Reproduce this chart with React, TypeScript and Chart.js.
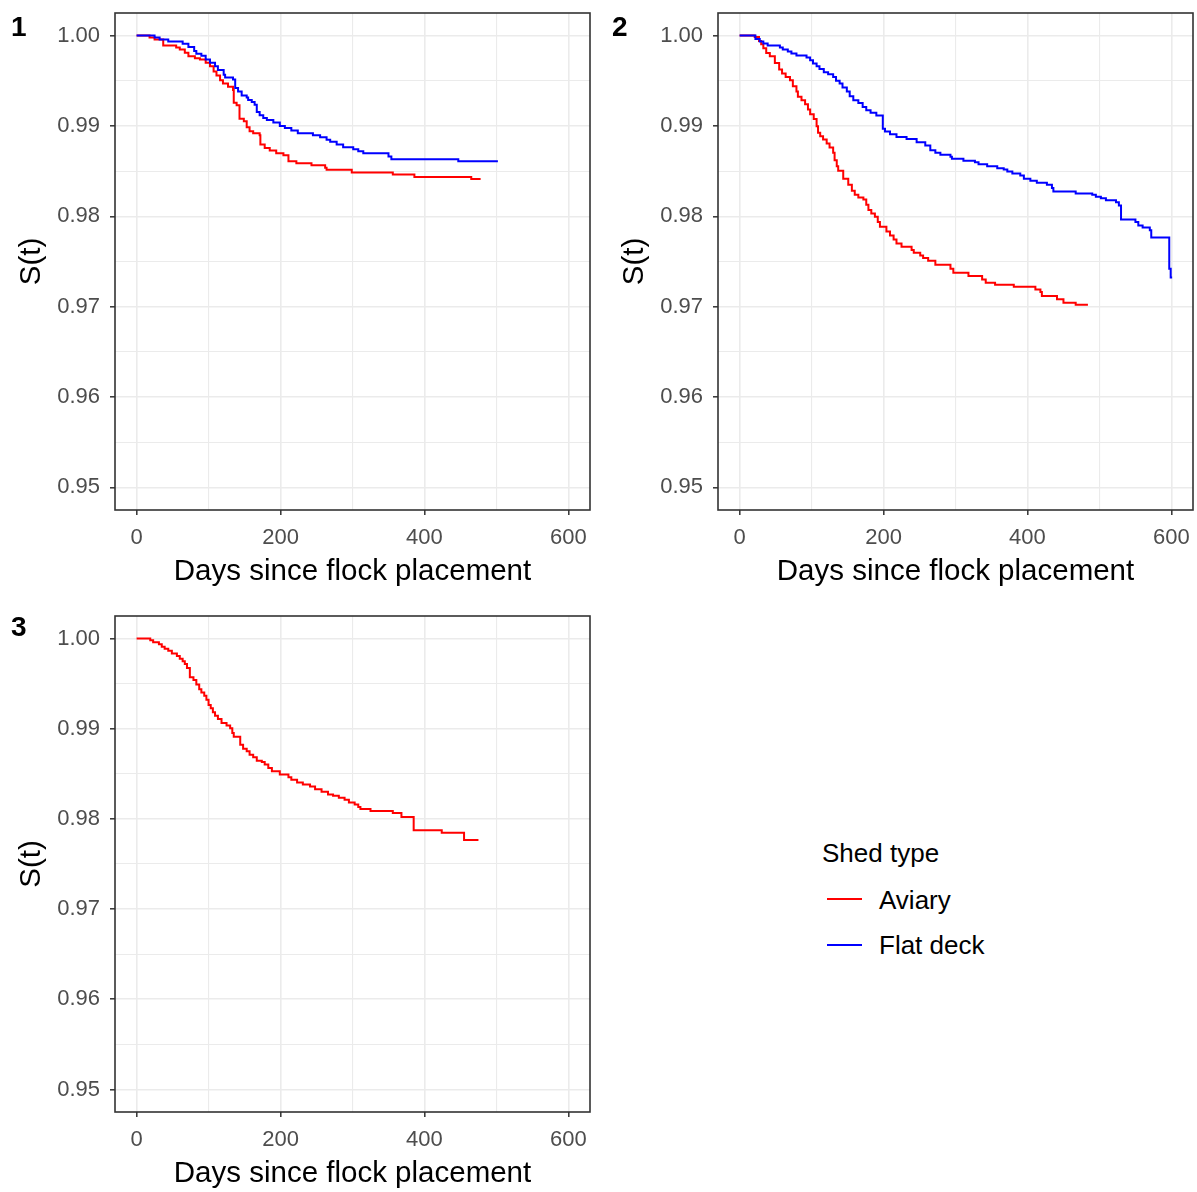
import React, { useEffect, useRef } from "react";
import { Chart, registerables } from "chart.js";

Chart.register(...registerables);

const FONT = "'Liberation Sans', Arial, Helvetica, sans-serif";

// Axis ticks and grid
const DAY_GRID = [0, 100, 200, 300, 400, 500, 600];
const DAY_LABELS = [0, 200, 400, 600];
const SURV_GRID = [0.95, 0.955, 0.96, 0.965, 0.97, 0.975, 0.98, 0.985, 0.99, 0.995, 1.0];
const SURV_TICKS = [0.95, 0.96, 0.97, 0.98, 0.99, 1.0];
const SURV_LABELS = ["0.95", "0.96", "0.97", "0.98", "0.99", "1.00"];

const X_TITLE = "Days since flock placement";
const Y_TITLE = "S(t)";
const LEGEND_TITLE = "Shed type";
const SHED_TYPES = ["Aviary", "Flat deck"];
const SHED_COLORS = ["#FF0000", "#0000FF"];

// Region 1
const p1AviaryDays = [0, 18, 25, 37, 55, 60, 67, 72, 81, 88, 96, 102, 107, 111, 116, 120, 127, 134, 135, 139, 143, 149, 153, 157, 162, 171, 172, 178, 185, 194, 204, 211, 222, 243, 262, 264, 299, 356, 386, 465, 478];
const p1AviarySurv = [1, 0.9998, 0.99956, 0.9989, 0.99868, 0.99846, 0.99809, 0.99772, 0.9975, 0.99735, 0.997, 0.9966, 0.99603, 0.99559, 0.99507, 0.9947, 0.99434, 0.99397, 0.99257, 0.99228, 0.99081, 0.99051, 0.98985, 0.98941, 0.98919, 0.98897, 0.98794, 0.98757, 0.98728, 0.98699, 0.98676, 0.9861, 0.98588, 0.98566, 0.98537, 0.98515, 0.98485, 0.98463, 0.98434, 0.98412, 0.98412];
const p1FlatDays = [0, 25, 32, 44, 64, 72, 80, 83, 90, 96, 102, 109, 113, 121, 123, 134, 137, 141, 146, 153, 155, 160, 164, 167, 171, 176, 181, 190, 199, 206, 215, 224, 245, 255, 264, 269, 278, 287, 301, 308, 315, 350, 354, 447, 502];
const p1FlatSurv = [1, 0.9998, 0.99956, 0.99934, 0.9991, 0.99875, 0.9983, 0.998, 0.99776, 0.99735, 0.997, 0.9966, 0.99618, 0.99566, 0.99537, 0.99515, 0.9942, 0.99382, 0.99338, 0.99316, 0.99287, 0.99265, 0.99235, 0.99154, 0.99118, 0.99088, 0.99066, 0.99037, 0.99, 0.98978, 0.98949, 0.98919, 0.98897, 0.98875, 0.98846, 0.98824, 0.98794, 0.98765, 0.98743, 0.98721, 0.98699, 0.98662, 0.98632, 0.9861, 0.9861];

// Region 2
const p2AviaryDays = [0, 21, 27, 30, 33, 37, 42, 49, 55, 59, 64, 70, 74, 79, 81, 86, 91, 95, 98, 103, 107, 109, 112, 116, 121, 125, 130, 132, 135, 137, 144, 151, 156, 160, 165, 172, 176, 179, 183, 188, 192, 195, 204, 209, 214, 218, 225, 239, 242, 251, 255, 262, 272, 293, 297, 318, 337, 342, 355, 381, 411, 418, 420, 441, 450, 467, 484];
const p2AviarySurv = [1, 0.99985, 0.99941, 0.99904, 0.9986, 0.99808, 0.99771, 0.99698, 0.99624, 0.9958, 0.99543, 0.99506, 0.9944, 0.99381, 0.99322, 0.99285, 0.99241, 0.99182, 0.9913, 0.99078, 0.98997, 0.98924, 0.98887, 0.9885, 0.98806, 0.98762, 0.98703, 0.98621, 0.98555, 0.98503, 0.98415, 0.98349, 0.98282, 0.98238, 0.98209, 0.98186, 0.98128, 0.98069, 0.98032, 0.97995, 0.97936, 0.97884, 0.97833, 0.97788, 0.97744, 0.977, 0.97663, 0.97626, 0.97597, 0.97567, 0.97538, 0.97508, 0.97464, 0.9742, 0.97376, 0.97339, 0.97302, 0.97265, 0.97243, 0.97221, 0.97191, 0.97162, 0.97118, 0.97081, 0.97044, 0.97022, 0.97022];
const p2FlatDays = [0, 22, 28, 33, 39, 56, 60, 67, 72, 79, 93, 98, 102, 107, 111, 117, 123, 130, 134, 139, 143, 149, 153, 158, 165, 171, 176, 182, 190, 199, 202, 209, 218, 232, 246, 258, 265, 272, 279, 293, 295, 311, 327, 332, 344, 358, 367, 372, 379, 390, 395, 404, 413, 427, 434, 436, 467, 490, 495, 502, 509, 523, 527, 530, 550, 554, 560, 570, 572, 597, 599, 601];
const p2FlatSurv = [1, 0.99963, 0.99934, 0.99912, 0.99889, 0.99867, 0.99845, 0.99823, 0.99801, 0.99779, 0.99757, 0.99727, 0.9969, 0.99661, 0.99631, 0.99595, 0.99572, 0.99543, 0.99499, 0.99469, 0.99425, 0.99381, 0.99329, 0.99285, 0.99255, 0.99211, 0.99174, 0.99145, 0.99115, 0.98968, 0.98938, 0.98909, 0.98879, 0.98857, 0.9882, 0.98784, 0.98732, 0.98703, 0.9868, 0.98658, 0.98636, 0.98614, 0.98599, 0.98577, 0.98555, 0.98533, 0.98518, 0.98496, 0.98474, 0.98452, 0.98415, 0.98393, 0.98371, 0.98349, 0.98312, 0.98275, 0.98253, 0.98238, 0.98216, 0.98201, 0.98179, 0.98157, 0.9812, 0.97965, 0.97936, 0.97899, 0.97877, 0.97847, 0.97766, 0.9742, 0.97324, 0.97324];

// Region 3
const p3AviaryDays = [0, 19, 23, 31, 35, 39, 44, 49, 56, 60, 64, 67, 70, 74, 79, 83, 87, 90, 94, 97, 100, 103, 106, 109, 113, 118, 125, 130, 133, 135, 144, 148, 153, 157, 162, 167, 174, 178, 183, 188, 199, 211, 215, 223, 231, 241, 248, 257, 266, 273, 281, 289, 295, 303, 308, 311, 325, 356, 368, 385, 424, 455, 475];
const p3AviarySurv = [1, 0.99982, 0.9996, 0.99938, 0.99908, 0.99886, 0.99864, 0.99835, 0.99806, 0.99776, 0.99747, 0.99717, 0.99673, 0.99571, 0.99541, 0.9949, 0.99439, 0.99402, 0.99365, 0.99321, 0.99262, 0.99226, 0.99182, 0.99145, 0.99108, 0.99064, 0.99035, 0.99006, 0.98954, 0.9891, 0.98822, 0.98778, 0.98749, 0.98712, 0.98683, 0.98646, 0.98631, 0.98602, 0.98565, 0.98528, 0.98492, 0.98462, 0.98433, 0.98404, 0.98382, 0.9836, 0.9833, 0.98301, 0.98272, 0.98257, 0.98235, 0.98213, 0.98183, 0.98161, 0.98132, 0.9811, 0.98088, 0.98066, 0.98022, 0.97875, 0.97846, 0.97765, 0.97765];

type Curve = { shed: number; days: number[]; surv: number[] };

const isIn = (list: number[], v: number) => list.some((t) => Math.abs(t - v) < 1e-9);

const panelBorder = {
  id: "panelBorder",
  afterDraw(chart: any) {
    const { ctx, chartArea: a } = chart;
    ctx.save();
    ctx.strokeStyle = "#333333";
    ctx.lineWidth = 1.6;
    ctx.strokeRect(a.left, a.top, a.right - a.left, a.bottom - a.top);
    ctx.restore();
  },
};

function SurvivalPanel(props: {
  curves: Curve[];
  left: number;
  top: number;
  width: number;
  height: number;
  padTop: number;
  padBottom: number;
}) {
  const { curves, left, top, width, height, padTop, padBottom } = props;
  const ref = useRef<HTMLCanvasElement>(null);

  useEffect(() => {
    const datasets = curves.map((c) => ({
      label: SHED_TYPES[c.shed],
      data: c.days.map((d, i) => ({ x: d, y: c.surv[i] })),
      borderColor: SHED_COLORS[c.shed],
      backgroundColor: SHED_COLORS[c.shed],
      borderWidth: 2,
      pointRadius: 0,
      fill: false,
      stepped: "before" as const,
      order: c.shed === 1 ? 0 : 1,
    }));

    const chart = new Chart(ref.current as HTMLCanvasElement, {
      type: "line",
      data: { datasets },
      options: {
        animation: false,
        responsive: false,
        maintainAspectRatio: false,
        layout: { padding: { top: padTop, right: 4, bottom: padBottom, left: 0 } },
        plugins: { legend: { display: false }, tooltip: { enabled: false } },
        scales: {
          x: {
            type: "linear",
            min: -30,
            max: 630,
            afterBuildTicks: (s: any) => {
              s.ticks = DAY_GRID.map((v) => ({ value: v }));
            },
            afterFit: (s: any) => {
              s.height = 80;
              s.paddingLeft = 0;
              s.paddingRight = 0;
            },
            border: { display: false },
            grid: {
              color: "#EBEBEB",
              lineWidth: (ctx: any) => (isIn(DAY_LABELS, ctx.tick?.value) ? 1.6 : 1.1),
              tickLength: 5,
              tickWidth: 1.5,
              tickColor: (ctx: any) => (isIn(DAY_LABELS, ctx.tick?.value) ? "#333333" : "rgba(0,0,0,0)"),
            },
            ticks: {
              autoSkip: false,
              maxRotation: 0,
              padding: 10,
              color: "#4D4D4D",
              font: { family: FONT, size: 22 },
              callback: (v: any) => (isIn(DAY_LABELS, Number(v)) ? String(v) : ""),
            },
            title: {
              display: true,
              text: X_TITLE,
              color: "#000000",
              font: { family: FONT, size: 29.5 },
              padding: { top: 0, bottom: 0 },
            },
          },
          y: {
            type: "linear",
            min: 0.9475,
            max: 1.0025,
            afterBuildTicks: (s: any) => {
              s.ticks = SURV_GRID.map((v) => ({ value: v }));
            },
            afterFit: (s: any) => {
              s.width = 115;
              s.paddingTop = 0;
              s.paddingBottom = 0;
            },
            border: { display: false },
            grid: {
              color: "#EBEBEB",
              lineWidth: (ctx: any) => (isIn(SURV_TICKS, ctx.tick?.value) ? 1.6 : 1.1),
              tickLength: 5,
              tickWidth: 1.5,
              tickColor: (ctx: any) => (isIn(SURV_TICKS, ctx.tick?.value) ? "#333333" : "rgba(0,0,0,0)"),
            },
            ticks: {
              autoSkip: false,
              padding: 10,
              color: "#4D4D4D",
              font: { family: FONT, size: 22 },
              callback: (v: any) => {
                const i = SURV_TICKS.findIndex((t) => Math.abs(t - Number(v)) < 1e-9);
                return i >= 0 ? SURV_LABELS[i] : "";
              },
            },
            title: {
              display: true,
              text: Y_TITLE,
              color: "#000000",
              font: { family: FONT, size: 29.5 },
              padding: { top: 14, bottom: 0 },
            },
          },
        },
      },
      plugins: [panelBorder],
    } as any);

    return () => chart.destroy();
  }, []);

  return (
    <canvas
      ref={ref}
      width={width}
      height={height}
      style={{ position: "absolute", left, top, width, height }}
    />
  );
}

const panelTag = (text: string, left: number, top: number) => (
  <div
    style={{
      position: "absolute",
      left,
      top,
      fontFamily: FONT,
      fontWeight: "bold",
      fontSize: 28,
      lineHeight: "28px",
      color: "#000",
    }}
  >
    {text}
  </div>
);

function Legend() {
  const rows = [
    { idx: 0, lineTop: 899, textTop: 887 },
    { idx: 1, lineTop: 945, textTop: 932 },
  ];
  return (
    <>
      <div
        style={{
          position: "absolute",
          left: 822,
          top: 840,
          fontFamily: FONT,
          fontSize: 26,
          lineHeight: "26px",
          color: "#000",
          whiteSpace: "nowrap",
        }}
      >
        {LEGEND_TITLE}
      </div>
      {rows.map((r) => (
        <React.Fragment key={r.idx}>
          <div
            style={{
              position: "absolute",
              left: 827,
              top: r.lineTop - 1,
              width: 35,
              height: 2,
              background: SHED_COLORS[r.idx],
            }}
          />
          <div
            style={{
              position: "absolute",
              left: 879,
              top: r.textTop,
              fontFamily: FONT,
              fontSize: 26,
              lineHeight: "26px",
              color: "#000",
              whiteSpace: "nowrap",
            }}
          >
            {SHED_TYPES[r.idx]}
          </div>
        </React.Fragment>
      ))}
    </>
  );
}

export default function App() {
  return (
    <div
      style={{
        position: "absolute",
        left: 0,
        top: 0,
        width: 1197,
        height: 1192,
        overflow: "hidden",
        background: "#FFFFFF",
      }}
    >
      <SurvivalPanel
        curves={[
          { shed: 0, days: p1AviaryDays, surv: p1AviarySurv },
          { shed: 1, days: p1FlatDays, surv: p1FlatSurv },
        ]}
        left={0}
        top={0}
        width={594}
        height={600}
        padTop={13}
        padBottom={10}
      />
      <SurvivalPanel
        curves={[
          { shed: 0, days: p2AviaryDays, surv: p2AviarySurv },
          { shed: 1, days: p2FlatDays, surv: p2FlatSurv },
        ]}
        left={603}
        top={0}
        width={594}
        height={600}
        padTop={13}
        padBottom={10}
      />
      <SurvivalPanel
        curves={[{ shed: 0, days: p3AviaryDays, surv: p3AviarySurv }]}
        left={0}
        top={602}
        width={594}
        height={590}
        padTop={14}
        padBottom={0}
      />
      {panelTag("1", 11, 13)}
      {panelTag("2", 612, 13)}
      {panelTag("3", 11, 613)}
      <Legend />
    </div>
  );
}
